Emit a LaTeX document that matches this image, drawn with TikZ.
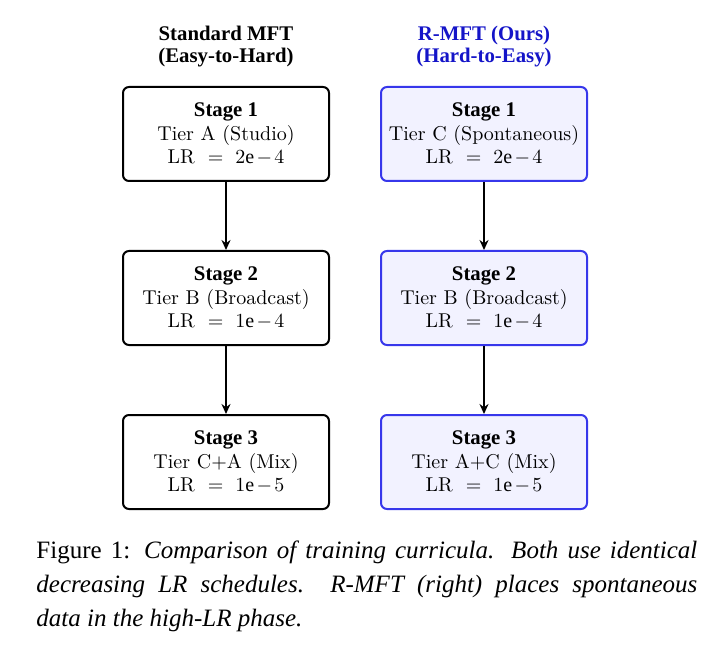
\documentclass[tikz,border=0pt]{standalone}
\usepackage{fontspec}
\setmainfont{Liberation Serif}
\newfontfamily\lmfont{Latin Modern Roman}
\usetikzlibrary{arrows.meta}
\definecolor{rblue}{RGB}{55,55,235}
\definecolor{rfill}{RGB}{242,242,255}
\definecolor{rtitle}{RGB}{20,20,200}
\tikzset{
  stagebox/.style={draw, line width=1pt, rounded corners=3pt, minimum width=103pt, minimum height=47pt, align=center, inner sep=0pt},
  oursbox/.style={stagebox, draw=rblue, fill=rfill},
  flow/.style={-{Stealth[length=5pt,width=4.5pt]}, line width=0.8pt},
  hdr/.style={font=\bfseries\fontsize{10.4}{11}\selectfont, align=center},
}
\newcommand{\lrval}[3]{LR\hspace{6.5pt}$=$\hspace{6pt}$#1\mathrm{e}\mkern2mu{#2}\mkern2mu#3$}
\newcommand{\stg}[3]{{\bfseries\fontsize{10.4}{12}\selectfont Stage #1}\\[-0.3pt]{\lmfont\fontsize{10}{12}\selectfont #2}\\[-0.3pt]{\lmfont\fontsize{10}{12}\selectfont #3}}
\begin{document}
\begin{tikzpicture}[x=0.5pt,y=-0.5pt]
\useasboundingbox (0,0) rectangle (711,646);
\node[hdr] (h1) at (226,47) {Standard MFT\\(Easy-to-Hard)};
\node[hdr, text=rtitle] (h2) at (484,47) {R-MFT (Ours)\\(Hard-to-Easy)};
\node[stagebox] (a1) at (226,134) {\stg{1}{Tier A (Studio)}{\lrval{2}{-}{4}}};
\node[stagebox] (a2) at (226,298) {\stg{2}{Tier B (Broadcast)}{\lrval{1}{-}{4}}};
\node[stagebox] (a3) at (226,462) {\stg{3}{Tier C+A (Mix)}{\lrval{1}{-}{5}}};
\node[oursbox] (b1) at (484,134) {\stg{1}{Tier C (Spontaneous)}{\lrval{2}{-}{4}}};
\node[oursbox] (b2) at (484,298) {\stg{2}{Tier B (Broadcast)}{\lrval{1}{-}{4}}};
\node[oursbox] (b3) at (484,462) {\stg{3}{Tier A+C (Mix)}{\lrval{1}{-}{5}}};
\draw[flow] (a1) -- (a2);
\draw[flow] (a2) -- (a3);
\draw[flow] (b1) -- (b2);
\draw[flow] (b2) -- (b3);
\node[anchor=north west, inner sep=0pt, text width=330.5pt, align=justify, font=\fontsize{12.5}{17.2}\selectfont] (cap) at (36,540)
 {Figure 1: \textit{Comparison of training curricula. Both use identical\linebreak decreasing LR schedules.\ \ R-MFT (right) places spontaneous\linebreak data in the high-LR phase.}};
\end{tikzpicture}
\end{document}
